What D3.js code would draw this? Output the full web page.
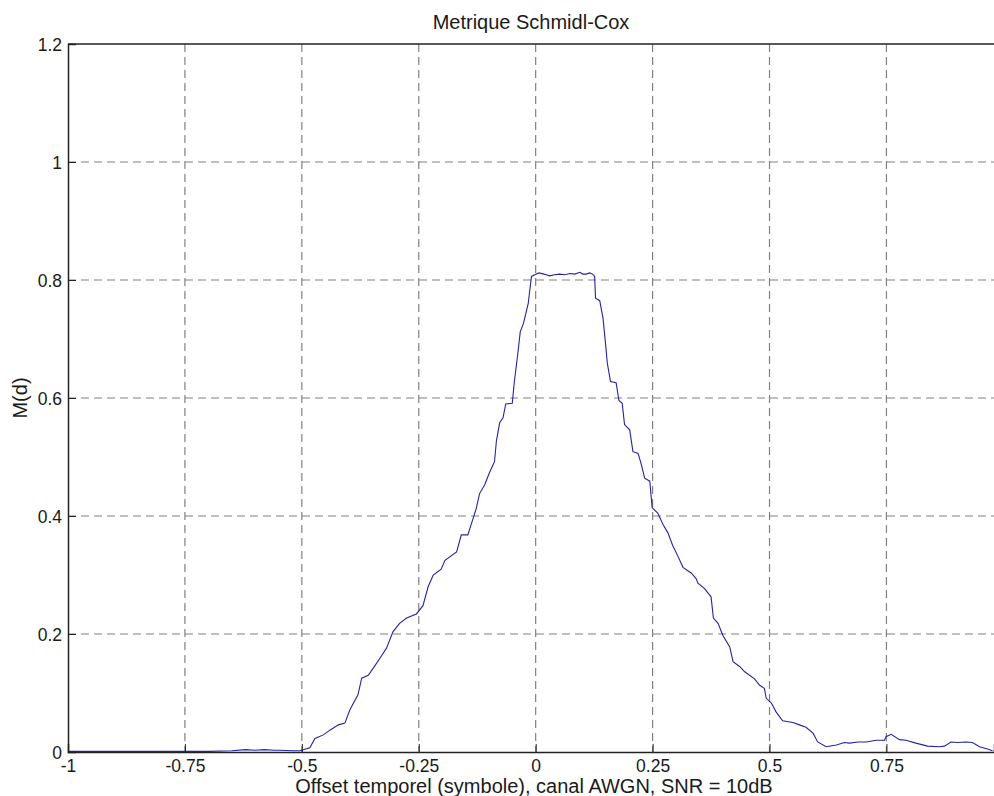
<!DOCTYPE html>
<html>
<head>
<meta charset="utf-8">
<script src="https://cdn.jsdelivr.net/npm/d3@7"></script>
<style>
html,body{margin:0;padding:0;background:#fff;}
svg{display:block;}
text{font-family:"Liberation Sans",Arial,Helvetica,sans-serif;fill:#1a1a1a;}
</style>
</head>
<body>
<svg id="chart" width="994" height="796"></svg>
<script>
// ---- data ----
const title = "Metrique Schmidl-Cox";
const xLabel = "Offset temporel (symbole), canal AWGN, SNR = 10dB";
const yLabel = "M(d)";
const xTicks = [-1, -0.75, -0.5, -0.25, 0, 0.25, 0.5, 0.75];
const xTickLabels = ["-1", "-0.75", "-0.5", "-0.25", "0", "0.25", "0.5", "0.75"];
const yTicks = [0, 0.2, 0.4, 0.6, 0.8, 1, 1.2];
const yTickLabels = ["0", "0.2", "0.4", "0.6", "0.8", "1", "1.2"];
const offsets = [
 -1, -0.9, -0.8, -0.7, -0.65, -0.62, -0.6, -0.58, -0.56, -0.547, -0.52, -0.504,
 -0.483, -0.472, -0.454, -0.44, -0.422, -0.408, -0.397, -0.38, -0.372, -0.358,
 -0.344, -0.333, -0.319, -0.305, -0.291, -0.276, -0.255, -0.241, -0.23, -0.219,
 -0.202, -0.194, -0.169, -0.159, -0.145, -0.137, -0.127, -0.12, -0.109, -0.098,
 -0.088, -0.084, -0.077, -0.07, -0.064, -0.05, -0.046, -0.039, -0.033, -0.026,
 -0.016, -0.013, -0.009, -0.002, 0.007, 0.018, 0.03, 0.04, 0.051, 0.062, 0.073,
 0.084, 0.094, 0.101, 0.108, 0.115, 0.122, 0.126, 0.128, 0.137, 0.144, 0.15,
 0.153, 0.16, 0.172, 0.178, 0.185, 0.19, 0.201, 0.208, 0.219, 0.226, 0.233,
 0.244, 0.249, 0.261, 0.272, 0.283, 0.293, 0.304, 0.315, 0.333, 0.343, 0.347,
 0.361, 0.375, 0.38, 0.39, 0.4, 0.415, 0.422, 0.436, 0.447, 0.468, 0.479, 0.489,
 0.493, 0.504, 0.514, 0.528, 0.55, 0.564, 0.578, 0.593, 0.603, 0.621, 0.643,
 0.66, 0.671, 0.689, 0.707, 0.728, 0.746, 0.749, 0.76, 0.778, 0.792, 0.813,
 0.838, 0.863, 0.874, 0.888, 0.902, 0.92, 0.934, 0.949, 0.966, 0.977
];
const metric = [
 0.001, 0.001, 0.001, 0.001, 0.002, 0.004, 0.003, 0.004, 0.003, 0.003, 0.002, 0.002,
 0.007, 0.023, 0.029, 0.037, 0.046, 0.049, 0.072, 0.097, 0.125, 0.13,
 0.146, 0.159, 0.176, 0.204, 0.218, 0.227, 0.234, 0.248, 0.28, 0.3,
 0.31, 0.325, 0.339, 0.368, 0.368, 0.388, 0.413, 0.438, 0.453, 0.475,
 0.492, 0.527, 0.558, 0.566, 0.59, 0.591, 0.625, 0.67, 0.712, 0.727,
 0.76, 0.78, 0.806, 0.809, 0.812, 0.81, 0.807, 0.809, 0.81, 0.809, 0.811,
 0.81, 0.813, 0.81, 0.81, 0.812, 0.81, 0.806, 0.769, 0.765, 0.735, 0.687,
 0.66, 0.628, 0.626, 0.596, 0.591, 0.555, 0.546, 0.509, 0.506, 0.487, 0.464,
 0.459, 0.414, 0.405, 0.386, 0.371, 0.35, 0.332, 0.313, 0.303, 0.294, 0.286,
 0.277, 0.263, 0.227, 0.218, 0.198, 0.178, 0.153, 0.145, 0.136, 0.124, 0.113, 0.108,
 0.091, 0.083, 0.068, 0.053, 0.05, 0.046, 0.042, 0.032, 0.017, 0.009, 0.012,
 0.016, 0.015, 0.017, 0.017, 0.02, 0.02, 0.026, 0.03, 0.021, 0.02, 0.015,
 0.01, 0.009, 0.01, 0.017, 0.016, 0.017, 0.016, 0.009, 0.005, 0.002
];

// ---- layout ----
const svg = d3.select("#chart");
const mLeft = 68, mRight = 994, mTop = 44, mBottom = 752;
const x = d3.scaleLinear().domain([-1, 0.98]).range([mLeft, mRight]);
const y = d3.scaleLinear().domain([0, 1.2]).range([mBottom, mTop]);
const tickFont = 17.5, labelFont = 20;

// gridlines
const grid = svg.append("g");
grid.selectAll("line.gx").data(xTicks.slice(1)).join("line")
  .attr("x1", d => x(d)).attr("x2", d => x(d))
  .attr("y1", mTop).attr("y2", mBottom)
  .attr("stroke", "#808080").attr("stroke-width", 1.2)
  .attr("stroke-dasharray", "8,5");
grid.selectAll("line.gy").data(yTicks.slice(1, -1)).join("line")
  .attr("x1", mLeft).attr("x2", mRight)
  .attr("y1", d => y(d)).attr("y2", d => y(d))
  .attr("stroke", "#808080").attr("stroke-width", 1.2)
  .attr("stroke-dasharray", "8,5");

// curve
const pts = offsets.map((o, i) => [o, metric[i]]);
svg.append("path")
  .datum(pts)
  .attr("fill", "none")
  .attr("stroke", "#2424a0")
  .attr("stroke-width", 1.1)
  .attr("d", d3.line().x(d => x(d[0])).y(d => y(d[1])));

// axes
const xAxis = d3.axisBottom(x).tickValues(xTicks)
  .tickFormat((d, i) => xTickLabels[i]).tickSize(-8).tickPadding(8);
const gx = svg.append("g").attr("transform", `translate(0,${mBottom})`).call(xAxis);
const yAxis = d3.axisLeft(y).tickValues(yTicks)
  .tickFormat((d, i) => yTickLabels[i]).tickSize(-8).tickPadding(6);
const gy = svg.append("g").attr("transform", `translate(${mLeft},0)`).call(yAxis);
[gx, gy].forEach(g => {
  g.selectAll(".domain").attr("stroke", "#222").attr("stroke-width", 1.5);
  g.selectAll(".tick line").attr("stroke", "#222");
  g.selectAll(".tick text").attr("font-size", tickFont)
    .attr("font-family", "'Liberation Sans',Arial,sans-serif").attr("fill", "#1a1a1a");
});
gy.selectAll(".tick text").attr("dy", "0.35em");
// top border
svg.append("line").attr("x1", mLeft).attr("x2", mRight).attr("y1", mTop).attr("y2", mTop)
  .attr("stroke", "#222").attr("stroke-width", 1.5);

// titles
svg.append("text").attr("x", (mLeft + mRight) / 2).attr("y", 29)
  .attr("text-anchor", "middle").attr("font-size", labelFont).text(title);
svg.append("text").attr("x", (mLeft + mRight) / 2 + 3).attr("y", 793)
  .attr("text-anchor", "middle").attr("font-size", labelFont).text(xLabel);
svg.append("text").attr("transform", `translate(27,${(mTop + mBottom) / 2}) rotate(-90)`)
  .attr("text-anchor", "middle").attr("font-size", labelFont).text(yLabel);
</script>
</body>
</html>
